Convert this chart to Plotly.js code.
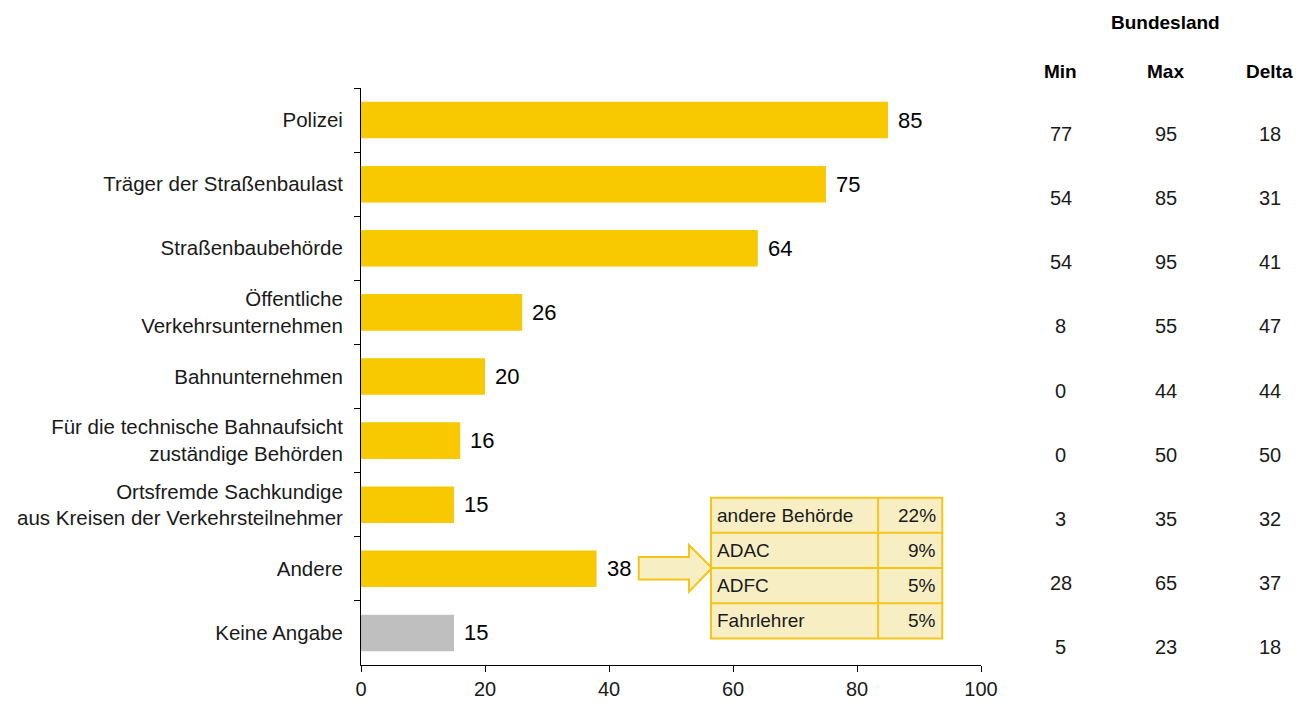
<!DOCTYPE html>
<html><head><meta charset="utf-8">
<script src="https://cdn.plot.ly/plotly-3.0.1.min.js"></script>
<style>body{margin:0;background:#fff}#chart{width:1309px;height:702px}</style>
</head><body><div id="chart"></div>
<script>
const categories = ["Polizei","Träger der Straßenbaulast","Straßenbaubehörde","Öffentliche<br>Verkehrsunternehmen","Bahnunternehmen","Für die technische Bahnaufsicht<br>zuständige Behörden","Ortsfremde Sachkundige<br>aus Kreisen der Verkehrsteilnehmer","Andere","Keine Angabe"];
const values = [85,75,64,26,20,16,15,38,15];
const minVals = [77,54,54,8,0,0,3,28,5];
const maxVals = [95,85,95,55,44,50,35,65,23];
const deltaVals = [18,31,41,47,44,50,32,37,18];
const subLabels = ["andere Behörde","ADAC","ADFC","Fahrlehrer"];
const subValues = ["22%","9%","5%","5%"];
const tableHeader = "Bundesland";
const colHeaders = ["Min","Max","Delta"];

const gold = "#F8C800", gray = "#BFBFBF";
const FONT = "Liberation Sans, Arial, sans-serif";
const colors = categories.map(c => c === "Keine Angabe" ? gray : gold);

const trace = {
  type: "bar", orientation: "h", x: values, y: categories,
  marker: {color: colors}, width: 0.57, hoverinfo: "x+y"
};

const ann = [];
values.forEach((v,i) => ann.push({x: v, y: categories[i], xref: "x", yref: "y", text: String(v),
  showarrow: false, xanchor: "left", yanchor: "middle", xshift: 8, font: {size: 22, color: "#000", family: FONT}}));
const colX = [1.129, 1.298, 1.466];
ann.push({x: colX[1], y: 1.114, xref: "paper", yref: "paper", xanchor: "center", yanchor: "middle", text: "<b>" + tableHeader + "</b>", showarrow: false, font: {size: 19, color: "#000", family: FONT}});
colHeaders.forEach((h,j) => ann.push({x: colX[j], y: 1.028, xref: "paper", yref: "paper", xanchor: "center", yanchor: "middle", text: "<b>" + h + "</b>", showarrow: false, font: {size: 19, color: "#000", family: FONT}}));
[minVals, maxVals, deltaVals].forEach((arr,j) => arr.forEach((v,i) => ann.push({x: colX[j], y: categories[i], xref: "paper", yref: "y", xanchor: "center", yanchor: "middle", yshift: -14, text: String(v), showarrow: false, font: {size: 20, color: "#1a1a1a", family: FONT}})));

const tx0 = 56.45, tx1 = 83.4, tx2 = 93.75;
const ty0 = 0.290, ty1 = 0.046;
const rowH = (ty0 - ty1) / subLabels.length;
const shapes = [];
const subFill = "#F8EEC4", subLine = "#F5C518";
shapes.push({type: "path", xref: "x", yref: "paper",
  path: `M 44.8 0.187 L 52.9 0.187 L 52.9 0.208 L 56.6 0.168 L 52.9 0.127 L 52.9 0.148 L 44.8 0.148 Z`,
  fillcolor: subFill, line: {color: subLine, width: 2}});
shapes.push({type: "rect", xref: "x", yref: "paper", x0: tx0, x1: tx2, y0: ty1, y1: ty0, fillcolor: subFill, line: {color: subLine, width: 2}});
shapes.push({type: "line", xref: "x", yref: "paper", x0: tx1, x1: tx1, y0: ty1, y1: ty0, line: {color: subLine, width: 2}});
for (let r = 1; r < subLabels.length; r++) {
  const yy = ty0 - r * rowH;
  shapes.push({type: "line", xref: "x", yref: "paper", x0: tx0, x1: tx2, y0: yy, y1: yy, line: {color: subLine, width: 2}});
}
subLabels.forEach((s,r) => {
  const yc = ty0 - (r + 0.5) * rowH;
  ann.push({x: tx0, y: yc, xref: "x", yref: "paper", xanchor: "left", yanchor: "middle", xshift: 4, text: s, showarrow: false, font: {size: 19, color: "#1a1a1a", family: FONT}});
  ann.push({x: tx2, y: yc, xref: "x", yref: "paper", xanchor: "right", yanchor: "middle", xshift: -4, text: subValues[r], showarrow: false, font: {size: 19, color: "#1a1a1a", family: FONT}});
});

const layout = {
  width: 1309, height: 702,
  margin: {l: 361, r: 328, t: 88, b: 37},
  paper_bgcolor: "#fff", plot_bgcolor: "#fff",
  showlegend: false,
  font: {family: FONT, color: "#1a1a1a", size: 20},
  xaxis: {range: [0, 100], dtick: 20, tick0: 0, showgrid: false, zeroline: false,
    showline: true, linecolor: "#000", linewidth: 1, ticks: "outside", ticklen: 6, tickcolor: "#000",
    tickfont: {size: 20, color: "#1a1a1a", family: FONT}, fixedrange: true},
  yaxis: {autorange: "reversed", type: "category", showgrid: false, zeroline: false,
    showline: true, linecolor: "#000", linewidth: 1, ticks: "outside", tickson: "boundaries",
    ticklen: 6, tickcolor: "#000", ticklabelstandoff: 13,
    tickfont: {size: 20.5, color: "#1a1a1a", family: FONT}, fixedrange: true},
  annotations: ann, shapes: shapes
};
Plotly.newPlot("chart", [trace], layout, {displayModeBar: false, staticPlot: true});
</script></body></html>
